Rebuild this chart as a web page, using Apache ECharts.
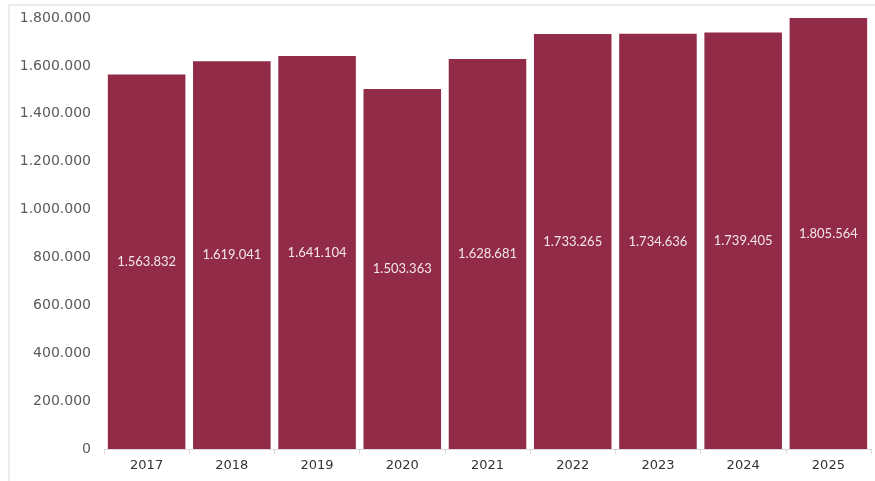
<!DOCTYPE html>
<html><head><meta charset="utf-8">
<script src="https://cdn.jsdelivr.net/npm/echarts@6/dist/echarts.min.js"></script>
<style>
html,body{margin:0;padding:0;background:#fff;}
#frame{position:absolute;left:8px;top:4px;width:880px;height:490px;border-left:2px solid #ececec;border-top:2px solid #ececec;}
#c{position:absolute;left:0;top:0;width:875px;height:481px;}
</style></head>
<body><div id="frame"></div><div id="c"></div>
<script>
const years = ['2017','2018','2019','2020','2021','2022','2023','2024','2025'];
const values = [1563832,1619041,1641104,1503363,1628681,1733265,1734636,1739405,1805564];
const fmt = v => String(v).replace(/\B(?=(\d{3})+(?!\d))/g, '.');
const chart = echarts.init(document.getElementById('c'));
chart.setOption({
  animation:false,
  grid:{left:104,right:4,top:18,bottom:32},
  xAxis:{type:'category',data:years,
    axisLine:{lineStyle:{color:'#d9d9d9'}},
    axisTick:{show:true,lineStyle:{color:'#d9d9d9'}},
    axisLabel:{color:'#333',fontSize:13,fontFamily:'DejaVu Sans',margin:10}},
  yAxis:{type:'value',min:0,max:1800000,interval:200000,
    splitLine:{show:false},axisLine:{show:false},axisTick:{show:false},
    axisLabel:{color:'#5a5a5a',fontSize:14,fontFamily:'DejaVu Sans',margin:13,formatter:fmt}},
  series:[{type:'bar',data:values,barCategoryGap:'9%',
    itemStyle:{color:'#922B47'},
    label:{show:true,position:'inside',color:'#f2e6ea',fontSize:13,fontFamily:'Lato',formatter:p=>fmt(p.value)}}]
});
</script></body></html>
